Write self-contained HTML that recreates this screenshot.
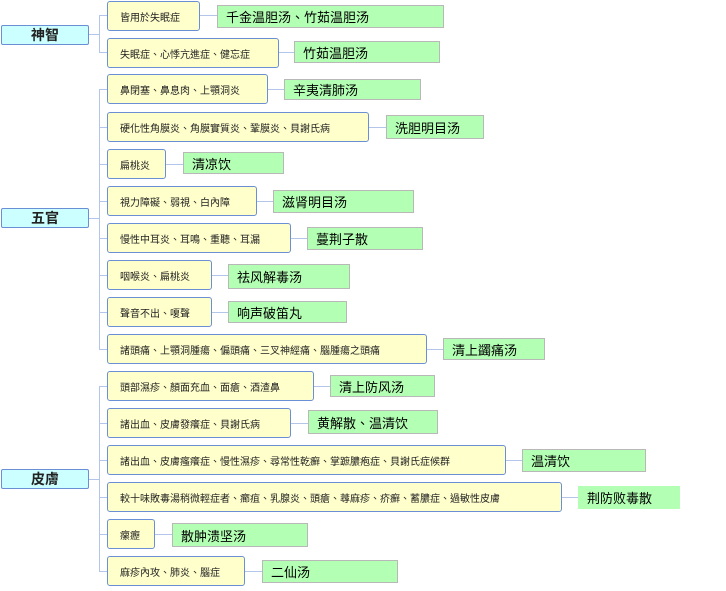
<!DOCTYPE html>
<html><head><meta charset="utf-8"><style>
body{margin:0;width:726px;height:591px;background:#fff;position:relative;overflow:hidden;font-family:"Liberation Sans","Noto Sans CJK TC",sans-serif}
.r{position:absolute;left:1px;width:88px;height:20px;box-sizing:border-box;background:#ccffff;border:1px solid #6a8fd4;border-radius:2px;font-size:14px;font-weight:bold;display:flex;align-items:center;justify-content:center;color:#222}
.y{position:absolute;left:107px;background:#ffffcc;border:1px solid #6a8fd4;border-radius:3px;box-sizing:border-box;height:30px;font-size:10px;display:flex;align-items:center;padding-left:12px;color:#222;white-space:nowrap}
.g{position:absolute;background:#b3ffb3;border:1px solid #b8b8b8;box-sizing:border-box;font-size:13px;padding-left:8px;color:#000;white-space:nowrap;display:flex;align-items:center}
.l{position:absolute;background:#b3c6ea}
</style></head><body>
<div class="l" style="left:89px;top:34px;width:10px;height:1px"></div>
<div class="l" style="left:99px;top:15px;width:1px;height:38px"></div>
<div class="l" style="left:89px;top:218px;width:10px;height:1px"></div>
<div class="l" style="left:99px;top:89px;width:1px;height:261px"></div>
<div class="l" style="left:89px;top:479px;width:10px;height:1px"></div>
<div class="l" style="left:99px;top:386px;width:1px;height:186px"></div>

<div class="r" style="top:25px">神智</div>
<div class="r" style="top:208px">五官</div>
<div class="r" style="top:469px">皮膚</div>

<div class="l" style="left:99px;top:15px;width:8px;height:1px"></div>
<div class="l" style="left:99px;top:52px;width:8px;height:1px"></div>
<div class="l" style="left:99px;top:89px;width:8px;height:1px"></div>
<div class="l" style="left:99px;top:127px;width:8px;height:1px"></div>
<div class="l" style="left:99px;top:164px;width:8px;height:1px"></div>
<div class="l" style="left:99px;top:201px;width:8px;height:1px"></div>
<div class="l" style="left:99px;top:238px;width:8px;height:1px"></div>
<div class="l" style="left:99px;top:275px;width:8px;height:1px"></div>
<div class="l" style="left:99px;top:312px;width:8px;height:1px"></div>
<div class="l" style="left:99px;top:349px;width:8px;height:1px"></div>
<div class="l" style="left:99px;top:386px;width:8px;height:1px"></div>
<div class="l" style="left:99px;top:423px;width:8px;height:1px"></div>
<div class="l" style="left:99px;top:460px;width:8px;height:1px"></div>
<div class="l" style="left:99px;top:497px;width:8px;height:1px"></div>
<div class="l" style="left:99px;top:534px;width:8px;height:1px"></div>
<div class="l" style="left:99px;top:571px;width:8px;height:1px"></div>

<div class="l" style="left:199px;top:15px;width:18px;height:1px"></div>
<div class="l" style="left:278px;top:52px;width:16px;height:1px"></div>
<div class="l" style="left:267px;top:89px;width:17px;height:1px"></div>
<div class="l" style="left:368px;top:127px;width:18px;height:1px"></div>
<div class="l" style="left:165px;top:164px;width:18px;height:1px"></div>
<div class="l" style="left:256px;top:201px;width:17px;height:1px"></div>
<div class="l" style="left:290px;top:238px;width:17px;height:1px"></div>
<div class="l" style="left:211px;top:275px;width:17px;height:1px"></div>
<div class="l" style="left:211px;top:312px;width:17px;height:1px"></div>
<div class="l" style="left:426px;top:349px;width:17px;height:1px"></div>
<div class="l" style="left:313px;top:386px;width:17px;height:1px"></div>
<div class="l" style="left:290px;top:423px;width:18px;height:1px"></div>
<div class="l" style="left:505px;top:460px;width:17px;height:1px"></div>
<div class="l" style="left:561px;top:497px;width:17px;height:1px"></div>
<div class="l" style="left:154px;top:534px;width:18px;height:1px"></div>
<div class="l" style="left:244px;top:571px;width:18px;height:1px"></div>

<div class="y" style="top:1px;width:93px">皆用於失眠症</div>
<div class="g" style="left:217px;top:5px;width:227px;height:23px">千金温胆汤、竹茹温胆汤</div>
<div class="y" style="top:38px;width:172px">失眠症、心悸亢進症、健忘症</div>
<div class="g" style="left:294px;top:41px;width:146px;height:22px">竹茹温胆汤</div>
<div class="y" style="top:74px;width:161px">鼻閉塞、鼻息肉、上顎洞炎</div>
<div class="g" style="left:284px;top:79px;width:137px;height:21px">辛夷清肺汤</div>
<div class="y" style="top:112px;width:262px">硬化性角膜炎、角膜實質炎、鞏膜炎、貝謝氏病</div>
<div class="g" style="left:386px;top:115px;width:98px;height:24px">洗胆明目汤</div>
<div class="y" style="top:149px;width:59px">扁桃炎</div>
<div class="g" style="left:183px;top:152px;width:101px;height:22px">清凉饮</div>
<div class="y" style="top:186px;width:150px">視力障礙、弱視、白內障</div>
<div class="g" style="left:273px;top:190px;width:141px;height:23px">滋肾明目汤</div>
<div class="y" style="top:223px;width:184px">慢性中耳炎、耳鳴、重聽、耳漏</div>
<div class="g" style="left:307px;top:227px;width:116px;height:23px">蔓荆子散</div>
<div class="y" style="top:260px;width:105px">咽喉炎、扁桃炎</div>
<div class="g" style="left:228px;top:264px;width:122px;height:25px">祛风解毒汤</div>
<div class="y" style="top:297px;width:105px">聲音不出、嗄聲</div>
<div class="g" style="left:228px;top:301px;width:119px;height:22px">响声破笛丸</div>
<div class="y" style="top:334px;width:320px">諸頭痛、上顎洞腫瘍、偏頭痛、三叉神經痛、腦腫瘍之頭痛</div>
<div class="g" style="left:443px;top:338px;width:102px;height:22px">清上蠲痛汤</div>
<div class="y" style="top:371px;width:207px">頭部濕疹、顏面充血、面瘡、酒渣鼻</div>
<div class="g" style="left:330px;top:375px;width:105px;height:22px">清上防风汤</div>
<div class="y" style="top:408px;width:184px">諸出血、皮膚發癢症、貝謝氏病</div>
<div class="g" style="left:308px;top:410px;width:130px;height:24px">黄解散、温清饮</div>
<div class="y" style="top:445px;width:399px">諸出血、皮膚瘙癢症、慢性濕疹、尋常性乾癬、掌蹠膿疱症、貝謝氏症候群</div>
<div class="g" style="left:522px;top:449px;width:124px;height:23px">温清饮</div>
<div class="y" style="top:482px;width:455px">較十味敗毒湯稍微輕症者、癤疽、乳腺炎、頭瘡、蕁麻疹、疥癬、蓄膿症、過敏性皮膚</div>
<div class="g" style="left:578px;top:486px;width:102px;height:23px;border-color:#b3ffb3">荆防败毒散</div>
<div class="y" style="top:519px;width:48px">瘰癧</div>
<div class="g" style="left:172px;top:523px;width:136px;height:24px">散肿溃坚汤</div>
<div class="y" style="top:556px;width:138px">麻疹內攻、肺炎、腦症</div>
<div class="g" style="left:262px;top:560px;width:136px;height:23px">二仙汤</div>
</body></html>
